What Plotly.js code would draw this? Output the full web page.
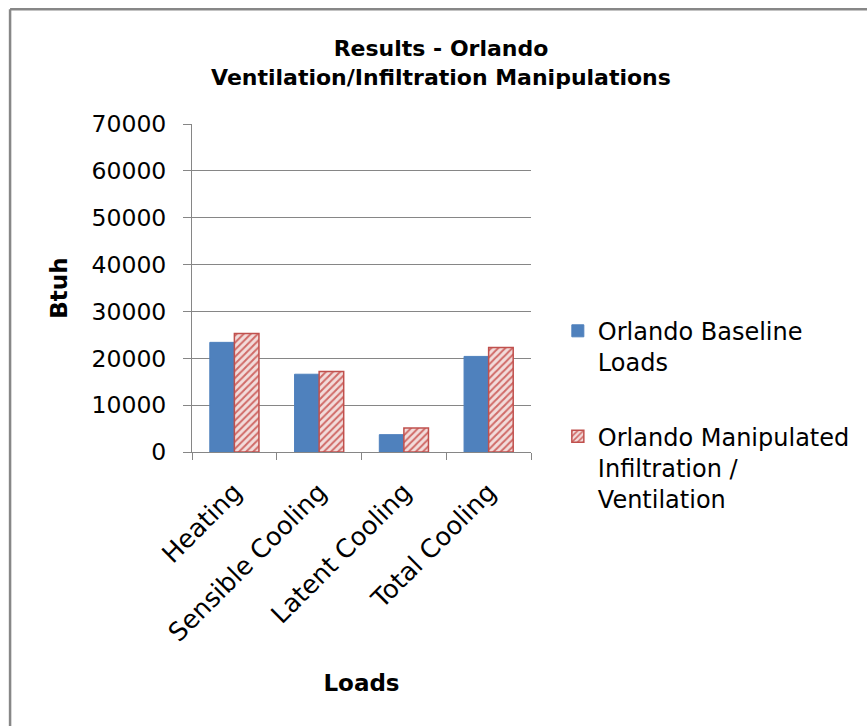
<!DOCTYPE html>
<html>
<head>
<meta charset="utf-8">
<script src="https://cdn.plot.ly/plotly-3.0.1.min.js"></script>
<style>html,body{margin:0;padding:0;background:#fff;}#chart{width:867px;height:726px;}</style>
</head>
<body>
<div id="chart"></div>
<script>
var categories = ["Heating", "Sensible Cooling", "Latent Cooling", "Total Cooling"];
var baselineLoads = [23400, 16600, 3700, 20400];
var manipulatedLoads = [25300, 17200, 5100, 22300];
var seriesNames = ["Orlando Baseline<br>Loads", "Orlando Manipulated<br>Infiltration /<br>Ventilation"];
var yTicks = [0, 10000, 20000, 30000, 40000, 50000, 60000, 70000];

var FAM = "DejaVu Sans, Liberation Sans, Arial, sans-serif";
var L = 192, R = 533, T = 124, B = 452.5;
var PW = R - L, PH = B - T;
function px2x(p) { return (p - L) / PW; }
function px2y(p) { return (B - p) / PH; }

var traces = [
  {
    type: "bar", x: categories, y: baselineLoads, name: seriesNames[0],
    legendgroup: "a",
    marker: {color: "#4F81BD", line: {color: "#4F81BD", width: 1}}
  },
  {
    type: "bar", x: categories, y: manipulatedLoads, name: seriesNames[1],
    legendgroup: "b",
    marker: {
      color: "#E6B9B8",
      line: {color: "#C0504D", width: 1.5},
      pattern: {shape: "/", bgcolor: "#F2DCDB", fgcolor: "#D06A67", size: 5, solidity: 0.4}
    }
  }
];

var layout = {
  width: 867, height: 726,
  margin: {l: L, r: 867 - R, t: T, b: 726 - B},
  paper_bgcolor: "#fff", plot_bgcolor: "#fff",
  font: {family: FAM, size: 23, color: "#000"},
  showlegend: true,
  barmode: "group",
  bargap: 0.42,
  bargroupgap: 0,
  title: {
    text: "<b>Results - Orlando<br>Ventilation/Infiltration Manipulations</b>",
    font: {family: FAM, size: 22, color: "#000"},
    x: 441 / 867, xanchor: "center", y: 1 - 56 / 726, yanchor: "top"
  },
  xaxis: {
    type: "category",
    tickangle: -45,
    ticks: "outside", ticklen: 7, tickcolor: "#868686", tickson: "boundaries",
    showline: true, linecolor: "#868686", linewidth: 1,
    showgrid: false,
    ticklabelstandoff: 14,
    tickfont: {family: FAM, size: 25.5, color: "#000"},
    title: {text: "<b>Loads</b>", font: {family: FAM, size: 23, color: "#000"}, standoff: 28}
  },
  yaxis: {
    range: [0, 70000],
    tickvals: yTicks,
    ticktext: yTicks.map(String),
    ticks: "outside", ticklen: 8, tickcolor: "#868686",
    showline: true, linecolor: "#868686", linewidth: 1,
    showgrid: true, gridcolor: "#868686", gridwidth: 1,
    zeroline: false,
    ticklabelstandoff: 12,
    tickfont: {family: FAM, size: 23.5, color: "#000"},
    title: {text: "<b>Btuh</b>", font: {family: FAM, size: 23, color: "#000"}, standoff: 17}
  },
  legend: {
    x: px2x(560), xanchor: "left",
    y: px2y(309), yanchor: "top",
    valign: "top",
    font: {family: FAM, size: 24, color: "#000"},
    tracegroupgap: 40,
    itemwidth: 30,
    bgcolor: "rgba(0,0,0,0)"
  },
  shapes: [
    {type: "line", xref: "paper", yref: "paper", x0: px2x(9), x1: px2x(9), y0: px2y(9), y1: px2y(740), line: {color: "#878787", width: 2.5}},
    {type: "line", xref: "paper", yref: "paper", x0: px2x(9), x1: px2x(880), y0: px2y(9), y1: px2y(9), line: {color: "#878787", width: 2.5}}
  ]
};

Plotly.newPlot("chart", traces, layout, {displayModeBar: false, staticPlot: true});
</script>
</body>
</html>
